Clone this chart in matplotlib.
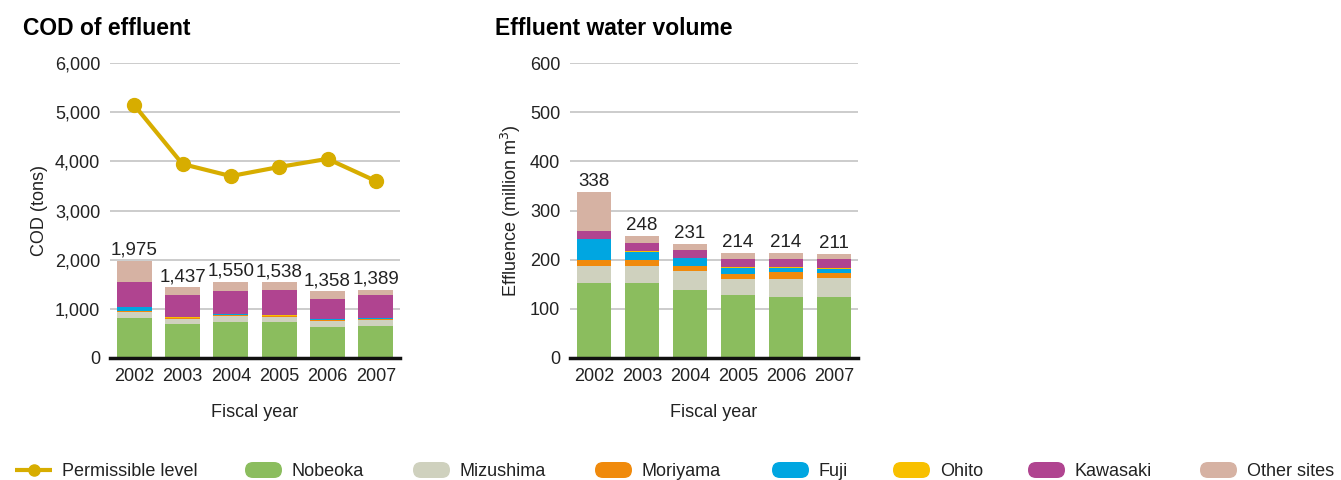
import matplotlib.pyplot as plt
import numpy as np
from matplotlib.patches import FancyBboxPatch

plt.rcParams['font.family'] = ['Liberation Sans', 'DejaVu Sans']

years = ['2002', '2003', '2004', '2005', '2006', '2007']
sites = ['Nobeoka', 'Mizushima', 'Moriyama', 'Fuji', 'Ohito', 'Kawasaki', 'Other sites']
colors = ['#8bbd5e', '#cfd1be', '#f08a0c', '#00a6e1', '#f8c000', '#b04490', '#d6b2a3']

# COD of effluent (tons)
cod_nobeoka = [822, 700, 740, 727, 640, 660]
cod_mizushima = [123, 102, 124, 116, 120, 120]
cod_moriyama = [2, 10, 5, 12, 10, 5]
cod_fuji = [100, 8, 18, 5, 25, 25]
cod_ohito = [0, 20, 3, 18, 3, 2]
cod_kawasaki = [490, 432, 465, 495, 412, 460]
cod_other = [438, 165, 195, 165, 148, 117]
cod_totals = [1975, 1437, 1550, 1538, 1358, 1389]
permissible = [5145, 3945, 3700, 3885, 4050, 3600]

# Effluent water volume (million m3)
vol_nobeoka = [153, 153, 139, 129, 125, 125]
vol_mizushima = [35, 35, 37, 32, 36, 37]
vol_moriyama = [12, 12, 12, 9, 13, 10]
vol_fuji = [43, 16, 15, 14, 10, 10]
vol_ohito = [0, 2, 1, 1, 1, 1]
vol_kawasaki = [16, 16, 16, 17, 17, 19]
vol_other = [79, 14, 11, 12, 12, 9]
vol_totals = [338, 248, 231, 214, 214, 211]

cod_stack = [cod_nobeoka, cod_mizushima, cod_moriyama, cod_fuji, cod_ohito, cod_kawasaki, cod_other]
vol_stack = [vol_nobeoka, vol_mizushima, vol_moriyama, vol_fuji, vol_ohito, vol_kawasaki, vol_other]

W, H = 1341, 480
fig = plt.figure(figsize=(W / 100, H / 100), dpi=100)
ax1 = fig.add_axes([110 / W, 122 / H, 290 / W, 295 / H])
ax2 = fig.add_axes([570 / W, 122 / H, 288 / W, 295 / H])

x = np.arange(len(years))
txt = '#222222'


def draw_stack(ax, stack, totals, ymax, step, fmt, pad):
    bottom = np.zeros(len(years))
    for vals, c in zip(stack, colors):
        ax.bar(x, vals, bottom=bottom, width=0.72, color=c, zorder=2)
        bottom += np.array(vals)
    for xi, t in zip(x, totals):
        ax.text(xi, t + pad, fmt(t), ha='center', va='bottom', fontsize=13.5, color=txt)
    ax.set_xlim(-0.5, len(years) - 0.5)
    ax.set_ylim(0, ymax)
    ax.set_yticks(np.arange(0, ymax + 1, step))
    ax.set_xticks(x)
    ax.set_xticklabels(years)
    ax.grid(axis='y', color='#c8c8c8', linewidth=1.3, zorder=0)
    ax.set_axisbelow(True)
    for s in ['top', 'right', 'left']:
        ax.spines[s].set_visible(False)
    ax.spines['bottom'].set_linewidth(2.5)
    ax.spines['bottom'].set_color('#111111')
    ax.spines['bottom'].set_zorder(3)
    ax.tick_params(length=0, labelsize=13, colors=txt, pad=7)
    ax.set_xlabel('Fiscal year', fontsize=13, color=txt, labelpad=14)


draw_stack(ax1, cod_stack, cod_totals, 6000, 1000, lambda v: f'{v:,}', 40)
ax1.plot(x, permissible, color='#d7ad00', linewidth=3, marker='o', markersize=10, zorder=4)
ax1.set_ylabel('COD (tons)', fontsize=13, color=txt, labelpad=5)
ax1.set_yticklabels([f'{v:,}' for v in range(0, 6001, 1000)])
ax1.set_title('COD of effluent', loc='left', x=-0.3, fontsize=16.5, fontweight='bold', pad=20)

draw_stack(ax2, vol_stack, vol_totals, 600, 100, lambda v: f'{v}', 4)
ax2.set_ylabel('Effluence (million m$^3$)', fontsize=13, color=txt, labelpad=5)
ax2.set_title('Effluent water volume', loc='left', x=-0.26, fontsize=16.5, fontweight='bold', pad=20)

# legend along the bottom, drawn in a pixel-unit axes
lax = fig.add_axes([0, 0, 1, 30 / H])
lax.set_xlim(0, W)
lax.set_ylim(0, 30)
lax.axis('off')
ly = 10
lax.plot([15, 52], [ly, ly], color='#d7ad00', linewidth=3, solid_capstyle='butt')
lax.plot([34], [ly], color='#d7ad00', marker='o', markersize=8)
lax.text(62, ly, 'Permissible level', fontsize=13, va='center_baseline', color=txt)
patch_x = [245, 413, 595, 772, 893, 1028, 1200]
for px, name, c in zip(patch_x, sites, colors):
    lax.add_patch(FancyBboxPatch((px, ly - 8), 37, 16,
                                 boxstyle='round,pad=0,rounding_size=8',
                                 facecolor=c, edgecolor='none'))
    lax.text(px + 47, ly, name, fontsize=13, va='center_baseline', color=txt)

fig.savefig('out.png', dpi=100)
